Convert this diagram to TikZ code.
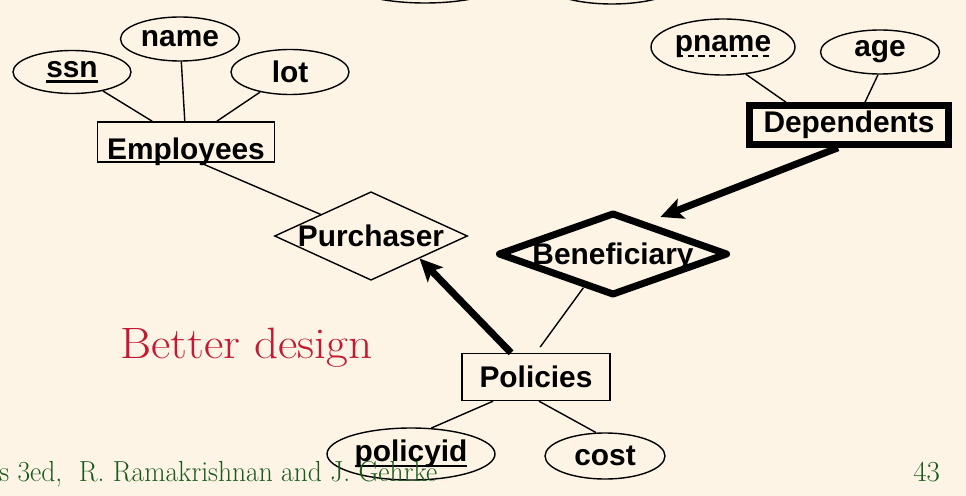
\documentclass[tikz,border=0pt]{standalone}
\usepackage{fontspec}
\newfontfamily\erfont{Liberation Sans}
\usetikzlibrary{shapes.geometric,arrows.meta,calc}
\definecolor{slidebg}{HTML}{FDF4E6}
\definecolor{slidered}{HTML}{C21A30}
\definecolor{slidegreen}{HTML}{1A5A1A}
% key underlines: full key and partial key
\newcommand\solidkey[1]{\setbox0\hbox{#1}\rlap{\lower2.8pt\hbox{\vrule width\wd0 height1.2pt depth0pt}}\box0}
\newcommand\dashkey[1]{\setbox0\hbox{#1}\rlap{\lower2.8pt\hbox to\wd0{\xleaders\hbox to6pt{\hss\vrule width3.6pt height1.2pt depth0pt\hss}\hfill}}\box0}

\begin{document}
\begin{tikzpicture}[x=0.02cm,y=-0.02cm,
  every node/.style={font=\erfont\bfseries\fontsize{17}{20}\selectfont},
  attr/.style={draw,ellipse,line width=0.8pt,inner sep=0pt},
  entity/.style={draw,rectangle,line width=0.8pt,inner sep=0pt},
  weakentity/.style={entity,line width=4pt},
  rel/.style={draw,diamond,line width=0.8pt,inner sep=0pt,text height=0.43cm,text depth=0pt},
  weakrel/.style={rel,line width=4pt,line join=round},
  link/.style={line width=0.8pt},
  keylink/.style={line width=4pt,-{Stealth[length=0.45cm,width=0.42cm,inset=0.1cm]}}]%
\path[use as bounding box,fill=slidebg] (0,0) rectangle (966,496);%
\clip (0,0) rectangle (966,496);%
% attributes cut off at the top
\draw[line width=0.8pt] (425,-19) ellipse [x radius=1.6cm, y radius=0.44cm];%
\draw[line width=0.8pt] (612,-18) ellipse [x radius=1.38cm, y radius=0.44cm];%
% Employees
\node[attr,minimum width=2.36cm,minimum height=0.86cm] (ssn) at (72,72) {\solidkey{ssn}};%
\node[attr,minimum width=2.38cm,minimum height=0.88cm] (name) at (180,39) {name};%
\node[attr,minimum width=2.36cm,minimum height=0.9cm] (lot) at (290,72) {lot};%
\node[entity,minimum width=3.54cm,minimum height=0.8cm,text height=0.72cm,text depth=0pt] (emp) at (186,142) {Employees};%
% Dependents
\node[attr,minimum width=2.88cm,minimum height=1.12cm] (pname) at (723,47) {\dashkey{pname}};%
\node[attr,minimum width=2.38cm,minimum height=0.88cm] (age) at (880,52) {age};%
\node[weakentity,minimum width=3.97cm,minimum height=0.77cm] (dep) at (849,125) {Dependents};%
% relationships
\node[rel,aspect=2.18,minimum width=3.84cm,minimum height=1.76cm] (purch) at (371,236) {Purchaser};%
\node[weakrel,aspect=2.77,minimum width=4.6cm,minimum height=1.66cm] (benef) at (613,254) {Beneficiary};%
% Policies
\node[entity,minimum width=2.96cm,minimum height=0.94cm] (pol) at (536,377) {Policies};%
\node[attr,minimum width=3.36cm,minimum height=1.04cm] (policyid) at (411,454) {\solidkey{policyid}};%
\node[attr,minimum width=2.4cm,minimum height=0.92cm] (cost) at (605,456) {cost};%
% texts
\node[font=\rmfamily\fontsize{25}{30}\selectfont,text=slidered,anchor=base west] (better) at (114,358) {\scalebox{1.08}[1]{Better design}};%
\node[font=\rmfamily\fontsize{16.5}{20}\selectfont,text=slidegreen,anchor=base west,inner sep=0pt] (credit) at (-1,481) {\scalebox{0.95}[1]{s 3ed,\ \ R. Ramakrishnan and J. Gehrke}};%
\node[font=\rmfamily\fontsize{16.5}{20}\selectfont,text=slidegreen,anchor=base west,inner sep=0pt] (page) at (913,481) {43};%
% connectors
\draw[link] (ssn) -- (emp);%
\draw[link] (name) -- (emp);%
\draw[link] (lot) -- (emp);%
\draw[link] ([xshift=0.28cm]emp.south) -- (purch);%
\draw[link] (pname.-50) -- ([xshift=-1.26cm]dep.north);%
\draw[link] (age.-95) -- ([xshift=0.32cm]dep.north);%
\draw[keylink,shorten >=0.28cm] ([xshift=-0.22cm]dep.south) -- ($(benef.north)!0.29!(benef.east)$);%
\draw[keylink] ([xshift=-0.5cm]pol.north) -- (purch.south east);%
\draw[link,shorten <=0.14cm] (pol.north) -- ($(benef.south)!0.25!(benef.west)$);%
\draw[link] ([xshift=-0.86cm]pol.south) -- (policyid.52);%
\draw[link] ([xshift=0.06cm]pol.south) -- (cost.111);%
\end{tikzpicture}
\end{document}
